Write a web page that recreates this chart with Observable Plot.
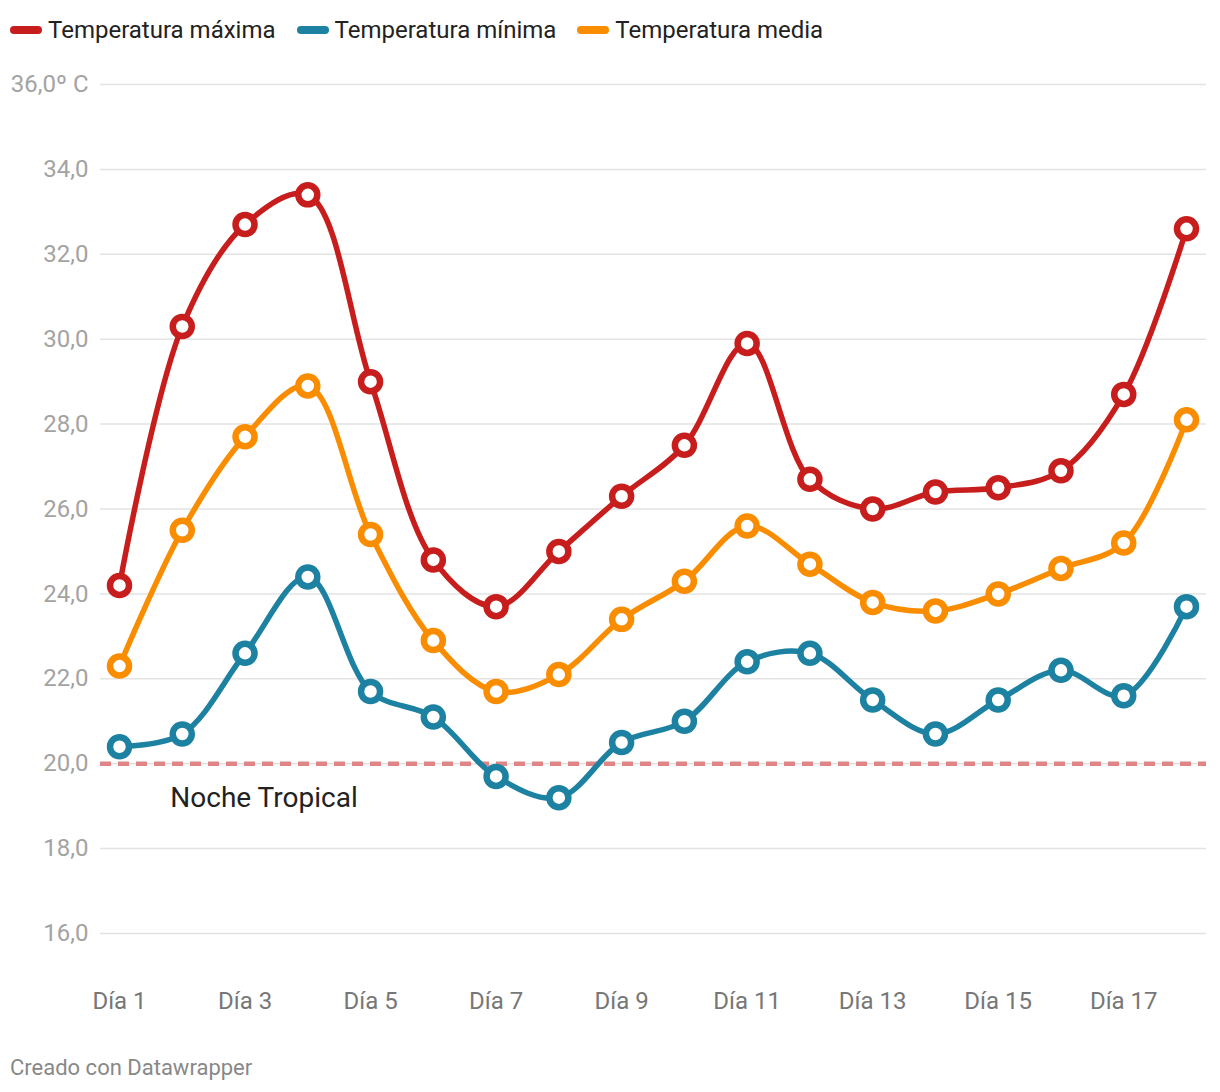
<!DOCTYPE html>
<html>
<head>
<meta charset="utf-8">
<script src="https://cdn.jsdelivr.net/npm/d3@7"></script>
<script src="https://cdn.jsdelivr.net/npm/@observablehq/plot@0.6"></script>
<style>
  body { margin: 0; background: #fff; font-family: Roboto, "Noto Sans", sans-serif; }
  #legend { height: 56px; box-sizing: border-box; padding-top: 16px; padding-left: 10px; display: flex; align-items: flex-start; }
  .item { display: flex; align-items: center; margin-right: 21px; font-size: 24px; color: #222; line-height: 28px; }
  .sw { width: 32px; height: 8px; border-radius: 4px; margin-right: 6px; }
  #caption { padding: 9px 0 0 10px; font-size: 22px; color: #888; line-height: 26px; }
</style>
</head>
<body>
<div id="legend"></div>
<div id="chart"></div>
<div id="caption">Creado con Datawrapper</div>
<script>
const days = [1,2,3,4,5,6,7,8,9,10,11,12,13,14,15,16,17,18];
const seriesNames = ["Temperatura máxima", "Temperatura mínima", "Temperatura media"];
const seriesColors = ["#c71e1d", "#1d81a2", "#fa8c00"];
const tMax   = [24.2, 30.3, 32.7, 33.4, 29.0, 24.8, 23.7, 25.0, 26.3, 27.5, 29.9, 26.7, 26.0, 26.4, 26.5, 26.9, 28.7, 32.6];
const tMin   = [20.4, 20.7, 22.6, 24.4, 21.7, 21.1, 19.7, 19.2, 20.5, 21.0, 22.4, 22.6, 21.5, 20.7, 21.5, 22.2, 21.6, 23.7];
const tMedia = [22.3, 25.5, 27.7, 28.9, 25.4, 22.9, 21.7, 22.1, 23.4, 24.3, 25.6, 24.7, 23.8, 23.6, 24.0, 24.6, 25.2, 28.1];
const yTicks = [16, 18, 20, 22, 24, 26, 28, 30, 32, 34, 36];
const xTicks = [1, 3, 5, 7, 9, 11, 13, 15, 17];
const thresholdValue = [20];
const annotations = [{day: 1.81, value: 19.18, label: "Noche Tropical"}];

const valueSets = [tMax, tMin, tMedia];
const data = [];
seriesNames.forEach((s, i) => days.forEach((d, j) => data.push({series: s, day: d, value: valueSets[i][j]})));

// legend
const legend = document.getElementById("legend");
seriesNames.forEach((s, i) => {
  const it = document.createElement("div");
  it.className = "item";
  const sw = document.createElement("div");
  sw.className = "sw";
  sw.style.background = seriesColors[i];
  it.appendChild(sw);
  const t = document.createElement("span");
  t.textContent = s;
  it.appendChild(t);
  legend.appendChild(it);
});

const fmtY = d => d === 36 ? "36,0º C" : d.toFixed(1).replace(".", ",");

const chart = Plot.plot({
  width: 1220,
  height: 990,
  marginLeft: 100,
  marginRight: 14,
  marginTop: 28,
  marginBottom: 70,
  style: {fontFamily: "Roboto, 'Noto Sans', sans-serif", background: "#fff", overflow: "visible"},
  x: {domain: [1, 18], range: [119, 1186]},
  y: {domain: [16, 36], range: [877, 28]},
  color: {domain: seriesNames, range: seriesColors},
  marks: [
    Plot.ruleY(yTicks, {stroke: "#e3e3e3", strokeWidth: 1.5}),
    Plot.ruleY(thresholdValue, {stroke: "#e08585", strokeWidth: 4.5, strokeDasharray: "11,7"}),
    Plot.axisY({ticks: yTicks, tickFormat: fmtY, tickSize: 0, tickPadding: 12, fontSize: 24, color: "#a3a3a3", label: null}),
    Plot.axisX({ticks: xTicks, tickFormat: d => "Día " + d, tickSize: 0, tickPadding: 15, fontSize: 24, color: "#777", label: null}),
    Plot.text(annotations, {x: "day", y: "value", text: "label", textAnchor: "start", fontSize: 28, fill: "#222"}),
    Plot.line(data, {x: "day", y: "value", z: "series", stroke: "series", curve: "catmull-rom", strokeWidth: 5.5}),
    Plot.dot(data, {x: "day", y: "value", stroke: "series", fill: "white", r: 9.5, strokeWidth: 6.5})
  ]
});
document.getElementById("chart").appendChild(chart);
</script>
</body>
</html>
